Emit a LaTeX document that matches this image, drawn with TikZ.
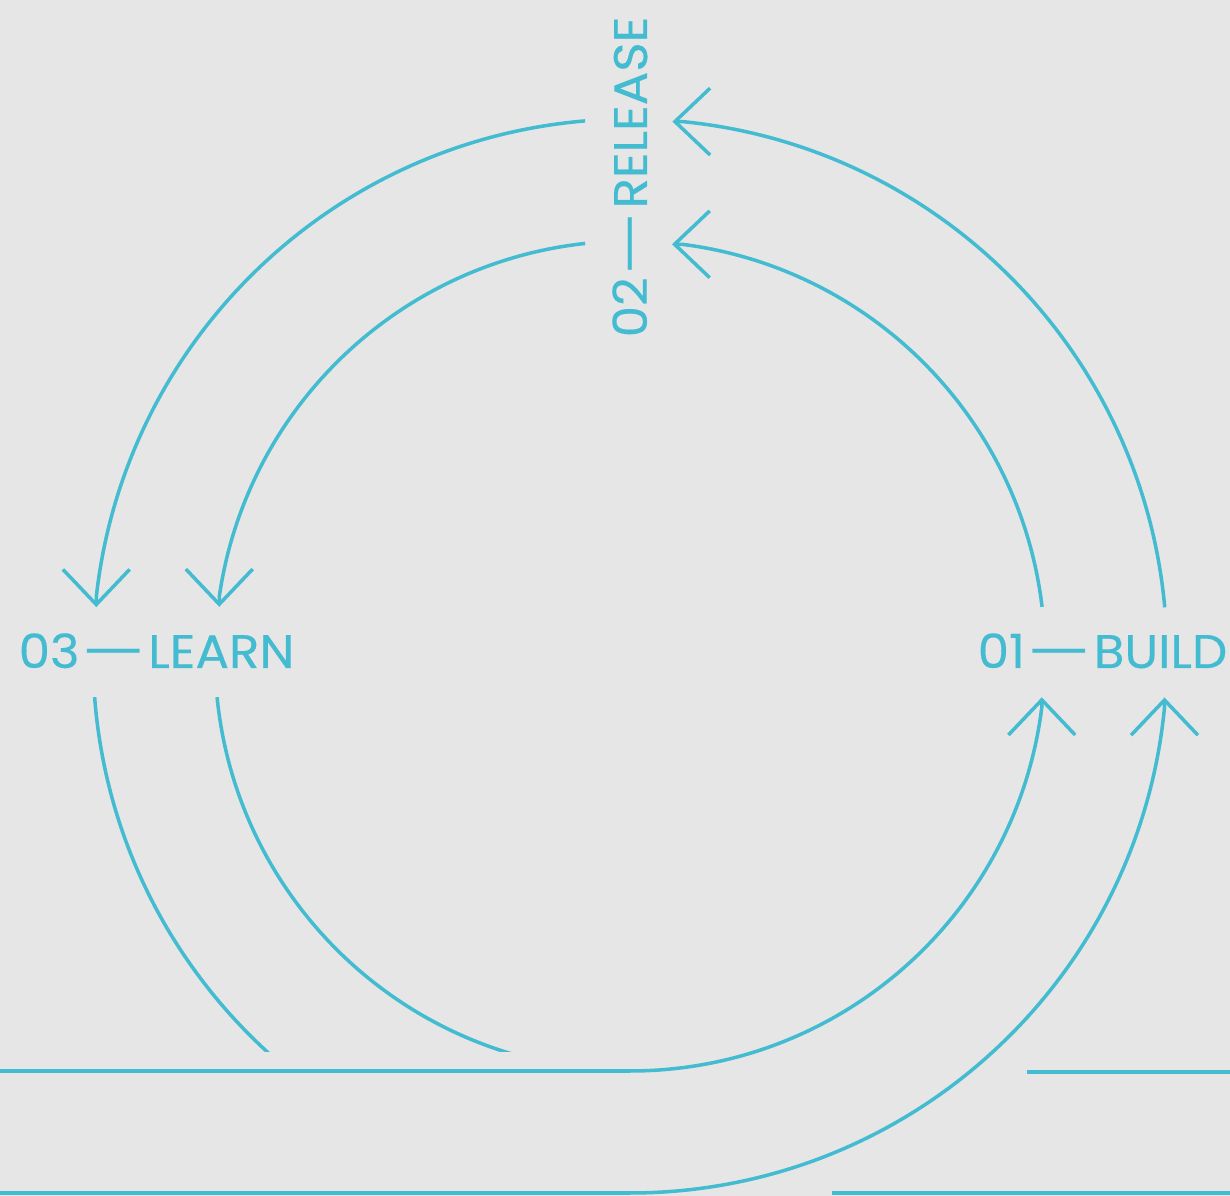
\documentclass[tikz,border=0pt]{standalone}
\usepackage{fontspec}
\setmainfont{Poppins}[FakeStretch=1.06, FakeBold=0.4]
\usetikzlibrary{calc,arrows.meta}
\definecolor{loopcyan}{HTML}{43BBD0}
\definecolor{loopgrey}{HTML}{E6E6E6}
\newcommand{\stepdash}{\kern0.6pt\scalebox{1.43}[1]{—}\kern1pt}
\tikzset{
  track/.style={draw=loopcyan, line width=1pt},
  flow/.style={track, -{Straight Barb[length=10pt,width=19pt]}},
  tag/.style={text=loopcyan, inner sep=0pt, font=\fontsize{13.4}{16}\selectfont}
}

\begin{document}
\begin{tikzpicture}[x=0.1mm, y=0.1mm]
  \fill[loopgrey] (0,0) rectangle (1230,1196);
  \useasboundingbox (0,0) rectangle (1230,1196);
  \coordinate (c) at (630,540);

  % labels
  \node[tag, anchor=base west] (learn) at (18,528) {03\stepdash LEARN};
  \node[tag, anchor=base east] (build) at (1228,528) {01\stepdash BUILD};
  \node[tag, anchor=base west, rotate=90] (release) at (647,858) {02\stepdash RELEASE};

  % top half: release -> learn
  \draw[flow] ($(c)+(94.8:537)$) arc[start angle=94.8, end angle=173.7, radius=537] -- ++(0,-10);
  \draw[flow] ($(c)+(96.2:415)$) arc[start angle=96.2, end angle=171.8, radius=415] -- ++(0,-10);
  % build -> release
  \draw[flow] ($(c)+(5.2:537)$) arc[start angle=5.2, end angle=84.4, radius=537] -- ++(-10,0);
  \draw[flow] ($(c)+(6.8:415)$) arc[start angle=6.8, end angle=82.8, radius=415] -- ++(-10,0);

  % learn going down, cut off
  \begin{scope}
    \clip (0,144) rectangle (1230,1196);
    \draw[track] ($(c)+(184.4:537)$) arc[start angle=184.4, end angle=270, radius=537];
    \draw[track] ($(c)+(185.7:415)$) arc[start angle=185.7, end angle=270, radius=415];
  \end{scope}

  % bottom lines -> build
  \draw[flow] (0,125) -- (630,125) arc[start angle=270, end angle=352.9, radius=415] -- ++(0,10);
  \draw[flow] (0,3) -- (630,3) arc[start angle=270, end angle=354.5, radius=537] -- ++(0,10);
  \draw[track] (1027,124) -- (1230,124);
  \draw[track] (832,3) -- (1230,3);
\end{tikzpicture}
\end{document}
